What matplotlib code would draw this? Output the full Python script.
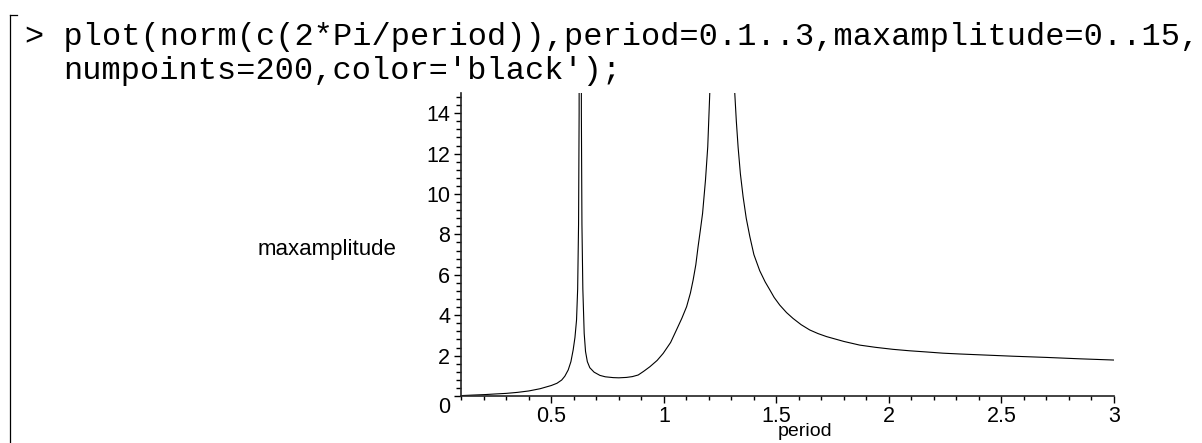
import numpy as np
import matplotlib
matplotlib.use("Agg")
import matplotlib.pyplot as plt
from matplotlib.lines import Line2D
from matplotlib.ticker import MultipleLocator
import matplotlib.transforms as mtransforms

# values (NaN splits the curve at the big resonance)
period = [0.10, 0.15, 0.205, 0.25, 0.30, 0.35, 0.40, 0.45, 0.50, 0.525, 0.546,
          0.56, 0.575, 0.587, 0.597, 0.605, 0.612, 0.617, 0.621, 0.6235, 0.625,
          0.632, 0.6335, 0.636, 0.640, 0.646, 0.652, 0.660, 0.671, 0.690, 0.716,
          0.740, 0.775, 0.800, 0.834, 0.860, 0.886, 0.910, 0.938, 0.970, 0.997,
          1.030, 1.056, 1.080, 1.101, 1.118, 1.130, 1.142, 1.152, 1.162, 1.172,
          1.185, 1.195, 1.204, 1.215, np.nan,
          1.305, 1.315, 1.322, 1.330, 1.340, 1.352, 1.366, 1.382, 1.400, 1.426,
          1.450, 1.471, 1.490, 1.515, 1.545, 1.574, 1.610, 1.648, 1.685, 1.723,
          1.800, 1.870, 1.940, 2.018, 2.090, 2.167, 2.240, 2.314, 2.400, 2.550,
          2.700, 2.850, 3.000]
maxamplitude = [0.02, 0.045, 0.07, 0.10, 0.13, 0.18, 0.25, 0.36, 0.52, 0.63, 0.79,
                0.98, 1.29, 1.70, 2.28, 2.90, 3.76, 5.3, 8.5, 14.0, 40.0,
                40.0, 14.0, 8.5, 5.3, 3.1, 2.2, 1.7, 1.4, 1.18, 1.02,
                0.95, 0.91, 0.90, 0.92, 0.96, 1.04, 1.22, 1.45, 1.76, 2.11,
                2.65, 3.27, 3.85, 4.42, 5.10, 5.74, 6.50, 7.39, 8.20, 9.04,
                10.7, 12.34, 15.0, 19.0, np.nan,
                19.0, 15.0, 13.6, 12.3, 11.0, 9.87, 8.80, 7.89, 7.00, 6.20,
                5.65, 5.25, 4.88, 4.50, 4.13, 3.84, 3.53, 3.27, 3.09, 2.94,
                2.70, 2.52, 2.41, 2.31, 2.24, 2.18, 2.12, 2.08, 2.04, 1.97,
                1.91, 1.84, 1.78]
x_ticks = [0.5, 1, 1.5, 2, 2.5, 3]
x_tick_labels = ["0.5", "1", "1.5", "2", "2.5", "3"]
y_ticks = [0, 2, 4, 6, 8, 10, 12, 14]
code_line1 = "> plot(norm(c(2*Pi/period)),period=0.1..3,maxamplitude=0..15,"
code_line2 = "numpoints=200,color='black');"

plt.rcParams['font.family'] = ['Liberation Sans', 'DejaVu Sans']

W, H = 1202, 443
fig = plt.figure(figsize=(W / 100, H / 100), dpi=100)
fig.patch.set_facecolor("white")

# axes box in pixels: x 0.1..3 -> 461..1114, y 0..15 -> 396..93
ax = fig.add_axes([461.3 / W, (H - 396) / H, (1114 - 461.3) / W, (396 - 93) / H])
ax.plot(period, maxamplitude, color="black", linewidth=0.8)
ax.set_xlim(0.1, 3)
ax.set_ylim(0, 15)

for side in ["top", "right"]:
    ax.spines[side].set_visible(False)
for side in ["left", "bottom"]:
    ax.spines[side].set_linewidth(1.2)
    ax.spines[side].set_color("#222222")

ax.set_xticks(x_ticks)
ax.set_xticklabels(x_tick_labels)
ax.set_yticks(y_ticks)
ax.set_yticklabels([str(v) for v in y_ticks])
ax.xaxis.set_minor_locator(MultipleLocator(0.1))
ax.yaxis.set_minor_locator(MultipleLocator(0.4))
ax.tick_params(axis="x", which="major", length=5, width=1, pad=2.5, labelsize=15.5)
ax.tick_params(axis="x", which="minor", length=3, width=1)
ax.tick_params(axis="y", which="major", length=5, width=1, pad=3, labelsize=15.5)
ax.tick_params(axis="y", which="minor", length=3.5, width=1)

# maple puts the origin label below the axis
lab0 = ax.get_yticklabels()[0]
lab0.set_transform(lab0.get_transform() +
                   mtransforms.ScaledTranslation(0, -9 / 100, fig.dpi_scale_trans))

fig.text(327 / W, 1 - 250 / H, "maxamplitude", ha="center", va="center", fontsize=16)
fig.text(805 / W, 1 - 432 / H, "period", ha="center", va="center", fontsize=14)

# worksheet input lines
fig.text(25 / W, 1 - 37 / H, code_line1, ha="left", va="center",
         fontsize=23, family="Liberation Mono")
fig.text(63 / W, 1 - 71 / H, code_line2, ha="left", va="center",
         fontsize=23, family="Liberation Mono")

# execution group bracket
fig.add_artist(Line2D([10 / W, 10 / W], [1 - 15 / H, 0], color="black", linewidth=0.9))
fig.add_artist(Line2D([10 / W, 17 / W], [1 - 15 / H, 1 - 15 / H], color="black", linewidth=0.9))

fig.savefig("out.png", dpi=100)
